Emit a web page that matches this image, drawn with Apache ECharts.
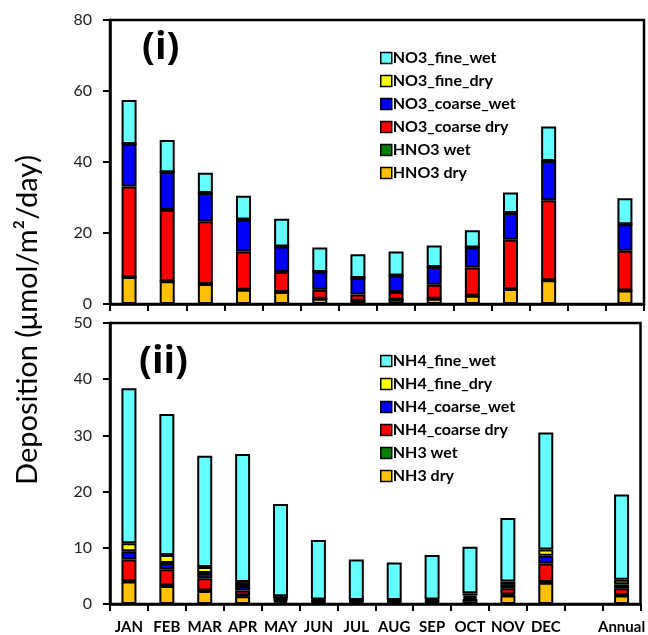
<!DOCTYPE html>
<html>
<head>
<meta charset="utf-8">
<script src="https://cdn.jsdelivr.net/npm/echarts@6/dist/echarts.min.js"></script>
<style>
  html, body { margin: 0; padding: 0; background: #fff; }
  #main { width: 648px; height: 635px; }
</style>
</head>
<body>
<div id="main"></div>
<script>
// 月份 (DEC 与 Annual 之间空一格)
const months = ["JAN", "FEB", "MAR", "APR", "MAY", "JUN", "JUL", "AUG", "SEP", "OCT", "NOV", "DEC", "", "Annual"];

// (i) 硝酸盐沉降
const hno3Dry      = [7.6, 6.4, 5.6, 4.0, 3.4, 1.5, 0.9, 1.2, 1.5, 2.3, 4.2, 6.7, null, 3.8];
const hno3Wet      = [0, 0, 0, 0, 0, 0, 0, 0, 0, 0, 0, 0, null, 0];
const no3CoarseDry = [25.5, 20.1, 17.7, 10.8, 5.6, 2.5, 1.8, 2.2, 3.9, 8.0, 13.9, 22.5, null, 11.2];
const no3CoarseWet = [12.0, 10.6, 8.0, 9.0, 7.2, 5.0, 4.6, 4.6, 5.0, 5.6, 7.5, 11.1, null, 7.5];
const no3FineDry   = [0, 0, 0, 0, 0, 0, 0, 0, 0, 0, 0, 0, null, 0];
const no3FineWet   = [12.4, 9.1, 5.7, 6.7, 7.8, 6.9, 6.7, 6.8, 6.1, 4.9, 5.8, 9.7, null, 7.3];

// (ii) 铵盐沉降
const nh3Dry       = [4.0, 3.2, 2.3, 1.4, 0.3, 0.2, 0.2, 0.2, 0.2, 0.5, 1.5, 3.8, null, 1.5];
const nh3Wet       = [0.1, 0.1, 0.1, 0.1, 0.3, 0.2, 0.2, 0.2, 0.2, 0.4, 0.2, 0.1, null, 0.1];
const nh4CoarseDry = [3.8, 2.9, 2.2, 0.9, 0.2, 0.1, 0.1, 0.1, 0.1, 0.3, 1.1, 3.3, null, 1.2];
const nh4CoarseWet = [1.5, 1.1, 0.9, 0.8, 0.2, 0.1, 0.1, 0.1, 0.1, 0.3, 0.6, 1.4, null, 0.7];
const nh4FineDry   = [1.4, 1.4, 1.1, 0.7, 0.4, 0.2, 0.1, 0.1, 0.2, 0.4, 0.6, 1.1, null, 0.8];
const nh4FineWet   = [27.6, 25.1, 19.8, 22.8, 16.4, 10.6, 7.2, 6.7, 7.9, 8.3, 11.3, 20.8, null, 15.2];

const colors = {
  fineWet: "#66ffff",
  fineDry: "#ffff00",
  coarseWet: "#0000ff",
  coarseDry: "#ff0000",
  gasWet: "#008000",
  gasDry: "#ffc000"
};

function bar(name, data, color, idx, stack) {
  return {
    name: name,
    type: "bar",
    stack: stack,
    xAxisIndex: idx,
    yAxisIndex: idx,
    data: data,
    barWidth: 15,
    itemStyle: { color: color, borderColor: "#000", borderWidth: 2 }
  };
}

function legend(top, names) {
  return {
    orient: "vertical",
    left: 375,
    top: top,
    itemWidth: 11,
    itemHeight: 11,
    itemGap: 5,
    icon: "rect",
    data: names,
    selectedMode: false,
    itemStyle: { borderColor: "#000", borderWidth: 1.5 },
    textStyle: { fontFamily: "Lato", fontWeight: "bold", fontSize: 16, lineHeight: 18, color: "#000", padding: [0, 0, 0, -4] }
  };
}

const axisLine = { show: true, onZero: false, lineStyle: { color: "#000", width: 2.5 } };
const axisTick = { show: true, length: 7, lineStyle: { color: "#000", width: 2 } };

function xAxis(idx, showLabel) {
  return {
    type: "category",
    gridIndex: idx,
    data: months,
    axisLine: axisLine,
    axisTick: Object.assign({ interval: 0 }, axisTick),
    axisLabel: {
      show: showLabel, interval: 0, margin: 16,
      fontFamily: "Lato", fontWeight: "bold", fontSize: 15, color: "#000"
    },
    splitLine: { show: false }
  };
}

function yAxis(idx, max, interval) {
  return {
    type: "value",
    gridIndex: idx,
    min: 0,
    max: max,
    interval: interval,
    axisLine: axisLine,
    axisTick: axisTick,
    axisLabel: { margin: 18, fontFamily: "Lato", fontSize: 16, color: "#222" },
    splitLine: { show: false }
  };
}

const option = {
  animation: false,
  backgroundColor: "#fff",
  title: [
    { text: "(i)", left: 137, top: 24, textStyle: { fontFamily: "Open Sans", fontWeight: "bold", fontSize: 38, color: "#000" } },
    { text: "(ii)", left: 134, top: 338, textStyle: { fontFamily: "Open Sans", fontWeight: "bold", fontSize: 38, color: "#000" } }
  ],
  graphic: [
    {
      type: "text",
      x: 28,
      y: 320,
      rotation: Math.PI / 2,
      style: {
        text: "Deposition (μmol/m²/day)",
        fontFamily: "Lato",
        fontSize: 29,
        fill: "#000",
        align: "center",
        verticalAlign: "middle"
      }
    }
  ],
  legend: [
    legend(44, ["NO3_fine_wet", "NO3_fine_dry", "NO3_coarse_wet", "NO3_coarse dry", "HNO3 wet", "HNO3 dry"]),
    legend(347, ["NH4_fine_wet", "NH4_fine_dry", "NH4_coarse_wet", "NH4_coarse dry", "NH3 wet", "NH3 dry"])
  ],
  grid: [
    { left: 110, top: 20, width: 534, height: 284, show: true, borderColor: "#000", borderWidth: 2.5 },
    { left: 110, top: 323, width: 534, height: 282, show: true, borderColor: "#000", borderWidth: 2.5 }
  ],
  xAxis: [xAxis(0, false), xAxis(1, true)],
  yAxis: [yAxis(0, 80, 20), yAxis(1, 50, 10)],
  series: [
    bar("HNO3 dry", hno3Dry, colors.gasDry, 0, "a"),
    bar("HNO3 wet", hno3Wet, colors.gasWet, 0, "a"),
    bar("NO3_coarse dry", no3CoarseDry, colors.coarseDry, 0, "a"),
    bar("NO3_coarse_wet", no3CoarseWet, colors.coarseWet, 0, "a"),
    bar("NO3_fine_dry", no3FineDry, colors.fineDry, 0, "a"),
    bar("NO3_fine_wet", no3FineWet, colors.fineWet, 0, "a"),
    bar("NH3 dry", nh3Dry, colors.gasDry, 1, "b"),
    bar("NH3 wet", nh3Wet, colors.gasWet, 1, "b"),
    bar("NH4_coarse dry", nh4CoarseDry, colors.coarseDry, 1, "b"),
    bar("NH4_coarse_wet", nh4CoarseWet, colors.coarseWet, 1, "b"),
    bar("NH4_fine_dry", nh4FineDry, colors.fineDry, 1, "b"),
    bar("NH4_fine_wet", nh4FineWet, colors.fineWet, 1, "b")
  ]
};

const chart = echarts.init(document.getElementById("main"));
chart.setOption(option);
</script>
</body>
</html>
